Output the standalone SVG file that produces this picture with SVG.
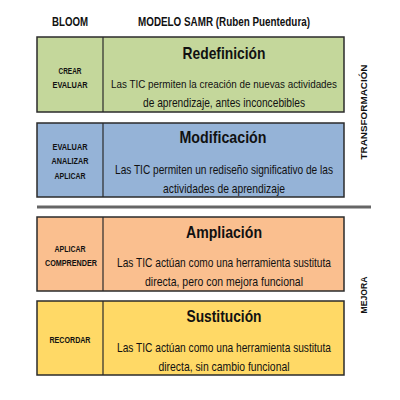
<svg xmlns="http://www.w3.org/2000/svg" width="400" height="400" viewBox="0 0 400 400">
<style>
.box{stroke:#2b2b2b;stroke-width:1.5}
.div{stroke:#2b2b2b;stroke-width:1.2}
text{font-family:"Liberation Sans","Noto Sans",sans-serif;fill:#111;text-anchor:middle}
.hd{font-size:12px;font-weight:bold}
.ti{font-size:17px;font-weight:bold}
.bd{font-size:13px}
.lb{font-size:9.5px;font-weight:bold}
.sd{font-size:9px;font-weight:bold}
</style>
<rect width="400" height="400" fill="#fff"/>
<g id="header">
<text class="hd" x="70" y="26" textLength="36" lengthAdjust="spacingAndGlyphs">BLOOM</text>
<text class="hd" x="224" y="26" textLength="172" lengthAdjust="spacingAndGlyphs">MODELO SAMR (Ruben Puentedura)</text>
</g>
<g id="redefinicion">
<rect class="box" x="37" y="37" width="307" height="75" fill="#c4d79b"/>
<line class="div" x1="103" y1="37" x2="103" y2="112"/>
<text class="lb" x="70" y="74" textLength="23" lengthAdjust="spacingAndGlyphs">CREAR</text>
<text class="lb" x="70" y="88" textLength="35" lengthAdjust="spacingAndGlyphs">EVALUAR</text>
<text class="ti" x="224" y="59" textLength="83" lengthAdjust="spacingAndGlyphs">Redefinición</text>
<text class="bd" x="224" y="88" textLength="226" lengthAdjust="spacingAndGlyphs" style="font-size:11.8px">Las TIC permiten la creación de nuevas actividades</text>
<text class="bd" x="224" y="107" textLength="162" lengthAdjust="spacingAndGlyphs">de aprendizaje, antes inconcebibles</text>
</g>
<g id="modificacion">
<rect class="box" x="37" y="123" width="307" height="74" fill="#95b3d7"/>
<line class="div" x1="103" y1="123" x2="103" y2="197"/>
<text class="lb" x="70" y="150" textLength="35" lengthAdjust="spacingAndGlyphs">EVALUAR</text>
<text class="lb" x="70" y="164" textLength="37" lengthAdjust="spacingAndGlyphs">ANALIZAR</text>
<text class="lb" x="70" y="179" textLength="31" lengthAdjust="spacingAndGlyphs">APLICAR</text>
<text class="ti" x="223" y="143" textLength="87" lengthAdjust="spacingAndGlyphs">Modificación</text>
<text class="bd" x="224" y="174" textLength="218" lengthAdjust="spacingAndGlyphs">Las TIC permiten un rediseño significativo de las</text>
<text class="bd" x="224" y="193" textLength="122" lengthAdjust="spacingAndGlyphs">actividades de aprendizaje</text>
</g>
<g id="connectors">
<line x1="37" y1="207" x2="371" y2="207" stroke="#666" stroke-width="3"/>
</g>
<g id="ampliacion">
<rect class="box" x="37" y="217" width="307" height="74" fill="#fabf8f"/>
<line class="div" x1="103" y1="217" x2="103" y2="291"/>
<text class="lb" x="70" y="252" textLength="31" lengthAdjust="spacingAndGlyphs">APLICAR</text>
<text class="lb" x="71" y="266" textLength="52" lengthAdjust="spacingAndGlyphs">COMPRENDER</text>
<text class="ti" x="224" y="238" textLength="76" lengthAdjust="spacingAndGlyphs">Ampliación</text>
<text class="bd" x="224" y="267" textLength="214" lengthAdjust="spacingAndGlyphs">Las TIC actúan como una herramienta sustituta</text>
<text class="bd" x="224" y="286" textLength="158" lengthAdjust="spacingAndGlyphs">directa, pero con mejora funcional</text>
</g>
<g id="sustitucion">
<rect class="box" x="37" y="301" width="307" height="74" fill="#ffd966"/>
<line class="div" x1="103" y1="301" x2="103" y2="375"/>
<text class="lb" x="70" y="343" textLength="41" lengthAdjust="spacingAndGlyphs">RECORDAR</text>
<text class="ti" x="224" y="322" textLength="75" lengthAdjust="spacingAndGlyphs">Sustitución</text>
<text class="bd" x="224" y="352" textLength="214" lengthAdjust="spacingAndGlyphs">Las TIC actúan como una herramienta sustituta</text>
<text class="bd" x="224" y="371" textLength="131" lengthAdjust="spacingAndGlyphs">directa, sin cambio funcional</text>
</g>
<g id="side">
<text class="sd" transform="translate(367 112) rotate(-90)" textLength="95" lengthAdjust="spacingAndGlyphs">TRANSFORMACIÓN</text>
<text class="sd" transform="translate(367 295) rotate(-90)" textLength="37" lengthAdjust="spacingAndGlyphs">MEJORA</text>
</g>
</svg>
